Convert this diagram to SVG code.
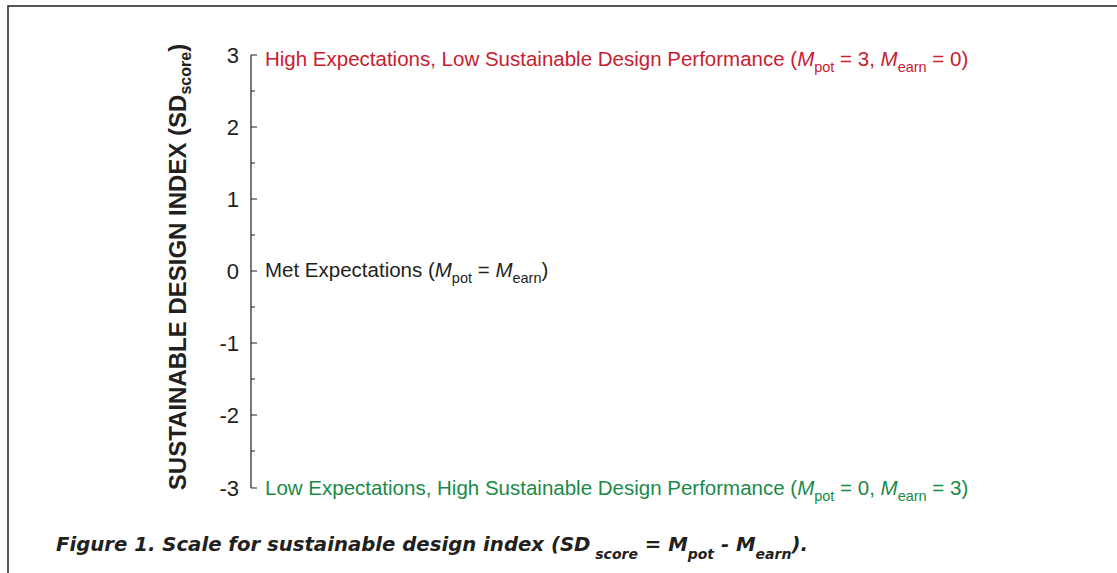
<svg xmlns="http://www.w3.org/2000/svg" width="1117" height="573" viewBox="0 0 1117 573">
<style>
.frame{fill:none;stroke:#231f20;stroke-width:1.5}
.axis{stroke:#231f20;stroke-width:1.2;fill:none}
.num{font-family:"Liberation Sans",Arial,sans-serif;font-size:22px;fill:#231f20;text-anchor:end}
.lbl{font-family:"Liberation Sans",Arial,sans-serif;font-size:20.5px}
.red{fill:#c8202f}
.green{fill:#1a8a46}
.black{fill:#231f20}
.title{font-family:"Liberation Sans",Arial,sans-serif;font-size:24px;font-weight:bold;fill:#231f20}
.cap{font-family:"DejaVu Sans",sans-serif;font-size:19.7px;font-weight:bold;font-style:italic;fill:#231f20}
</style>
<rect width="1117" height="573" fill="#ffffff"/>
<path class="frame" d="M8,573 V6 H1117"/>
<g id="axis">
<path class="axis" d="M251,55 V488"/>
<path class="axis" d="M251,55 H257 M251,127 H257 M251,199 H257 M251,271 H257 M251,343 H257 M251,415 H257 M251,488 H257"/>
<path class="axis" d="M251,91 H255 M251,163 H255 M251,235 H255 M251,307 H255 M251,379 H255 M251,451 H255"/>
<text class="num" x="239" y="63">3</text>
<text class="num" x="239" y="135">2</text>
<text class="num" x="239" y="207">1</text>
<text class="num" x="239" y="279">0</text>
<text class="num" x="239" y="351">-1</text>
<text class="num" x="239" y="423">-2</text>
<text class="num" x="239" y="496">-3</text>
</g>
<g id="axis-title">
<text class="title" transform="translate(186,267) rotate(-90)" text-anchor="middle">SUSTAINABLE DESIGN INDEX (SD<tspan font-size="16" dy="5">score</tspan><tspan dy="-5">)</tspan></text>
</g>
<g id="label-high">
<text class="lbl red" x="265" y="66">High Expectations, Low Sustainable Design Performance (<tspan font-style="italic">M</tspan><tspan font-size="14.5" dy="6">pot</tspan><tspan dy="-6"> = 3, </tspan><tspan font-style="italic">M</tspan><tspan font-size="14.5" dy="6">earn</tspan><tspan dy="-6"> = 0)</tspan></text>
</g>
<g id="label-met">
<text class="lbl black" x="265" y="277">Met Expectations (<tspan font-style="italic">M</tspan><tspan font-size="14.5" dy="6">pot</tspan><tspan dy="-6"> = </tspan><tspan font-style="italic">M</tspan><tspan font-size="14.5" dy="6">earn</tspan><tspan dy="-6">)</tspan></text>
</g>
<g id="label-low">
<text class="lbl green" x="265" y="495">Low Expectations, High Sustainable Design Performance (<tspan font-style="italic">M</tspan><tspan font-size="14.5" dy="6">pot</tspan><tspan dy="-6"> = 0, </tspan><tspan font-style="italic">M</tspan><tspan font-size="14.5" dy="6">earn</tspan><tspan dy="-6"> = 3)</tspan></text>
</g>
<g id="caption">
<text class="cap" x="56" y="551">Figure 1. Scale for sustainable design index (SD<tspan font-size="14" dy="8"> score</tspan><tspan dy="-8"> = M</tspan><tspan font-size="14" dy="8">pot</tspan><tspan dy="-8"> - M</tspan><tspan font-size="14" dy="8">earn</tspan><tspan dy="-8">).</tspan></text>
</g>
</svg>
